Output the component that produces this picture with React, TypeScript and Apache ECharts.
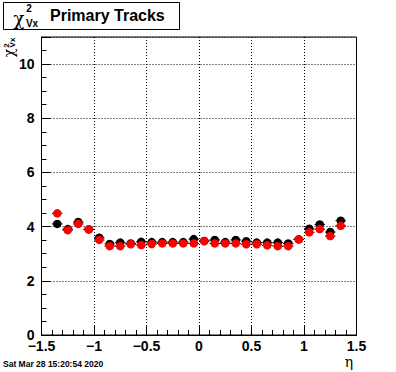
import React, { useEffect, useRef } from "react";
import * as echarts from "echarts";

const etaBins: number[] = [
  -1.35, -1.25, -1.15, -1.05, -0.95, -0.85, -0.75, -0.65, -0.55, -0.45, -0.35, -0.25, -0.15, -0.05,
  0.05, 0.15, 0.25, 0.35, 0.45, 0.55, 0.65, 0.75, 0.85, 0.95, 1.05, 1.15, 1.25, 1.35,
];
const blackValues: number[] = [
  4.1, 3.91, 4.17, 3.9, 3.59, 3.36, 3.41, 3.38, 3.44, 3.43, 3.43, 3.43, 3.43, 3.54,
  3.47, 3.51, 3.43, 3.51, 3.46, 3.41, 3.41, 3.41, 3.38, 3.53, 3.92, 4.08, 3.8, 4.22,
];
const redValues: number[] = [
  4.49, 3.87, 4.1, 3.9, 3.51, 3.28, 3.28, 3.35, 3.32, 3.36, 3.38, 3.38, 3.38, 3.38,
  3.47, 3.38, 3.38, 3.38, 3.35, 3.35, 3.31, 3.28, 3.28, 3.53, 3.79, 3.91, 3.65, 4.03,
];
const binHalfWidth = 0.05;
const titleText = "Primary Tracks";
const dateText = "Sat Mar 28 15:20:54 2020";

const FONT = "'Liberation Sans', Arial, Helvetica, sans-serif";

function pairs(vals: number[]): number[][] {
  return etaBins.map((x, i) => [x, vals[i]]);
}

function errBarSeries(vals: number[], z: number) {
  return {
    type: "custom",
    z,
    silent: true,
    data: pairs(vals),
    renderItem: (params: any, api: any) => {
      const x = api.value(0);
      const y = api.value(1);
      const p1 = api.coord([x - binHalfWidth, y]);
      const p2 = api.coord([x + binHalfWidth, y]);
      return {
        type: "line",
        shape: { x1: p1[0], y1: p1[1], x2: p2[0], y2: p2[1] },
        style: { stroke: "#000", lineWidth: 1 },
      };
    },
  };
}

export default function App() {
  const ref = useRef<HTMLDivElement>(null);
  useEffect(() => {
    if (!ref.current) return;
    const chart = echarts.init(ref.current, undefined, { renderer: "svg" });
    const axisLabel = {
      color: "#000",
      fontFamily: FONT,
      fontWeight: "bold" as const,
      fontSize: 14,
    };
    const splitLine = {
      show: true,
      lineStyle: { color: "#000", type: [1, 2] as any, width: 1 },
    };
    chart.setOption({
      animation: false,
      backgroundColor: "#fff",
      grid: {
        left: 41.5,
        right: 39.5,
        top: 37,
        bottom: 37,
        show: true,
        borderColor: "#000",
        borderWidth: 1,
        backgroundColor: "transparent",
        containLabel: false,
      },
      xAxis: {
        type: "value",
        min: -1.5,
        max: 1.5,
        interval: 0.5,
        axisLine: { show: true, onZero: false, lineStyle: { color: "#000", width: 1 } },
        axisTick: { show: true, inside: true, length: 9, lineStyle: { color: "#000" } },
        minorTick: { show: true, splitNumber: 5, length: 5, lineStyle: { color: "#000" } },
        splitLine,
        axisLabel: {
          ...axisLabel,
          margin: 4,
          formatter: (v: number) => String(v).replace("-", "\u2212"),
        },
      },
      yAxis: {
        type: "value",
        min: 0,
        max: 11,
        interval: 2,
        axisLine: { show: true, onZero: false, lineStyle: { color: "#000", width: 1 } },
        axisTick: { show: true, inside: true, length: 9, lineStyle: { color: "#000" } },
        minorTick: { show: true, splitNumber: 4, length: 5, lineStyle: { color: "#000" } },
        splitLine,
        axisLabel: {
          ...axisLabel,
          margin: 7,
          formatter: (v: number) => (v > 10.5 ? "" : String(v)),
        },
      },
      series: [
        errBarSeries(blackValues, 2),
        {
          type: "scatter",
          z: 3,
          symbol: "circle",
          symbolSize: 8.5,
          itemStyle: { color: "#000", opacity: 1 },
          data: pairs(blackValues),
        },
        errBarSeries(redValues, 4),
        {
          type: "scatter",
          z: 5,
          symbol: "circle",
          symbolSize: 8.5,
          itemStyle: { color: "#ff0000", opacity: 1 },
          data: pairs(redValues),
        },
      ],
      graphic: [
        {
          type: "rect",
          shape: { x: 3.5, y: 2.5, width: 176, height: 27 },
          style: { fill: "#fff", stroke: "#000", lineWidth: 1 },
        },
        {
          type: "text",
          x: 19,
          y: 18,
          style: { text: "\u03c7", fontSize: 18, fontFamily: "'DejaVu Serif', serif", fill: "#000", align: "center", verticalAlign: "middle" },
        },
        {
          type: "text",
          x: 29,
          y: 8.5,
          style: { text: "2", fontSize: 10, fontWeight: "bold", fontFamily: FONT, fill: "#000", align: "center", verticalAlign: "middle" },
        },
        {
          type: "text",
          x: 32,
          y: 23,
          style: { text: "Vx", fontSize: 10, fontWeight: "bold", fontFamily: FONT, fill: "#000", align: "center", verticalAlign: "middle" },
        },
        {
          type: "text",
          x: 50,
          y: 15.5,
          style: { text: titleText, fontSize: 16, fontWeight: "bold", fontFamily: FONT, fill: "#000", align: "left", verticalAlign: "middle" },
        },
        {
          type: "text",
          x: 9,
          y: 53,
          rotation: Math.PI / 2,
          style: { text: "\u03c7", fontSize: 14, fontFamily: "'DejaVu Serif', serif", fill: "#000", align: "center", verticalAlign: "middle" },
        },
        {
          type: "text",
          x: 6,
          y: 45.5,
          rotation: Math.PI / 2,
          style: { text: "2", fontSize: 8, fontWeight: "bold", fontFamily: FONT, fill: "#000", align: "center", verticalAlign: "middle" },
        },
        {
          type: "text",
          x: 12.5,
          y: 42.5,
          rotation: Math.PI / 2,
          style: { text: "Vx", fontSize: 8, fontWeight: "bold", fontFamily: FONT, fill: "#000", align: "center", verticalAlign: "middle" },
        },
        {
          type: "text",
          x: 349,
          y: 362,
          style: { text: "\u03b7", fontSize: 14, fontFamily: "'DejaVu Serif', serif", fill: "#000", align: "center", verticalAlign: "middle" },
        },
        {
          type: "text",
          x: 3,
          y: 364,
          style: { text: dateText, fontSize: 8.5, fontWeight: "bold", fontFamily: FONT, fill: "#000", align: "left", verticalAlign: "middle" },
        },
      ],
    });
    return () => chart.dispose();
  }, []);
  return (
    <div
      ref={ref}
      style={{ position: "fixed", left: 0, top: 0, width: 396, height: 372, background: "#fff" }}
    />
  );
}
